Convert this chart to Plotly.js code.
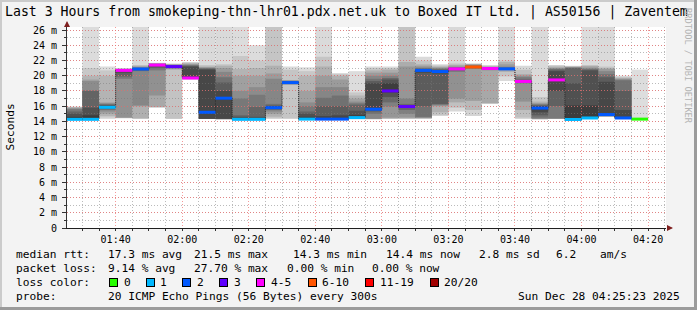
<!DOCTYPE html>
<html>
<head>
<meta charset="utf-8">
<script src="https://cdn.plot.ly/plotly-3.0.1.min.js"></script>
<style>
html,body{margin:0;padding:0;background:#f3f3f3;}
#wrap{position:relative;width:697px;height:310px;overflow:hidden;}
#chart{position:absolute;left:0;top:0;width:697px;height:310px;}
.bd{position:absolute;pointer-events:none;}
</style>
</head>
<body>
<div id="wrap">
<div id="chart"></div>
<div class="bd" style="left:0;top:0;width:697px;height:2px;background:#cbcbcb"></div>
<div class="bd" style="left:0;top:0;width:2px;height:310px;background:#cbcbcb"></div>
<div class="bd" style="left:0;top:307px;width:697px;height:3px;background:#9b9b9b"></div>
<div class="bd" style="left:694px;top:0;width:3px;height:310px;background:#9b9b9b"></div>
</div>
<script>
// ---------------- data ----------------
const titleText = 'Last 3 Hours from smokeping-thn-lhr01.pdx.net.uk to Boxed IT Ltd. | AS50156 | Zaventem';
const day = [2025, 11, 28];
const rangeStart = '2025-12-28 01:25:23';
const rangeEnd = '2025-12-28 04:25:23';

const slotStart = ['01:25','01:30','01:35','01:40','01:45','01:50','01:55','02:00','02:05','02:10',
  '02:15','02:20','02:25','02:30','02:35','02:40','02:45','02:50','02:55','03:00',
  '03:05','03:10','03:15','03:20','03:25','03:30','03:35','03:40','03:45','03:50',
  '03:55','04:00','04:05','04:10','04:15'];

const medianMs = [14.27,14.27,15.85,20.7,20.88,21.4,21.2,19.7,15.2,17.05,
  14.27,14.27,15.8,19.1,14.3,14.3,14.3,14.5,15.6,18.0,
  15.95,20.7,20.55,20.9,21.15,20.95,20.9,19.25,15.75,19.45,
  14.25,14.45,14.9,14.45,14.3];

const lossCount = [1,1,1,4,2,4,3,4,2,2,
  1,1,2,2,1,2,2,1,2,3,
  3,2,2,4,6,4,2,4,2,4,
  1,1,2,2,0];

// received ping round-trip times (ms) per 5-minute step
const pings = [
 [14.2,14.22,14.23,14.24,14.25,14.26,14.26,14.27,14.27,14.27,14.6,15.0,15.3,15.6,15.7,15.8,15.85,15.9,15.95],
 [14.2,14.22,14.23,14.24,14.25,14.26,14.26,14.27,14.27,14.28,14.8,15.8,18.0,18.1,19.3,19.5,20.0,21.0,30],
 [14.3,14.5,14.7,15.0,15.3,15.5,15.6,15.7,15.8,15.85,16.0,16.1,16.2,16.3,16.4,16.5,20.0,20.7,21.2],
 [14.4,14.45,14.5,14.5,19.6,19.9,20.4,20.6,20.8,20.85,20.87,20.88,20.9,20.9,20.92,20.95],
 [14.3,14.35,14.4,16.0,16.1,20.6,20.7,20.8,20.85,20.9,20.95,21.0,21.05,21.1,21.2,21.3,21.4,30],
 [15.8,15.85,15.9,17.4,20.7,21.0,21.2,21.3,21.45,21.5,21.52,21.55,21.58,21.6,21.65,21.7],
 [14.3,14.35,20.8,20.9,21.0,21.05,21.1,21.15,21.2,21.25,21.3,21.35,21.4,21.45,21.5,21.55,21.6],
 [19.5,19.55,19.6,19.62,19.65,19.67,19.68,19.7,19.72,21.2,21.3,21.4,21.5,21.6,21.7,21.8],
 [14.3,14.3,14.3,14.3,14.3,14.3,14.3,14.35,15.1,15.3,20.8,20.9,21.0,21.05,21.1,21.2,21.4,30],
 [14.3,14.3,14.3,14.3,14.3,14.3,14.3,14.35,16.9,17.15,18.0,19.1,19.8,20.5,21.0,21.3,21.5,30],
 [14.2,14.22,14.23,14.24,14.25,14.26,14.26,14.27,14.27,14.28,14.4,14.6,14.8,17.0,18.0,20.0,20.9,22.6,30],
 [14.2,14.22,14.23,14.24,14.25,14.26,14.26,14.27,14.27,14.28,14.4,14.6,15.9,17.5,18.5,20.0,21.0,22.0,24.0],
 [14.3,14.4,14.6,15.0,15.3,15.5,15.6,15.7,15.75,15.85,16.0,16.1,16.3,19.6,20.3,21.3,30,32],
 [14.3,14.4,18.8,18.85,18.9,18.95,19.0,19.02,19.05,19.15,19.2,19.25,19.3,19.35,19.38,19.4,20.8,21.2],
 [14.2,14.22,14.23,14.24,14.25,14.26,14.27,14.28,14.29,14.3,14.6,15.0,15.3,16.0,16.5,18.0,20.0,20.6,21.1],
 [14.25,14.26,14.27,14.27,14.28,14.28,14.29,14.29,14.3,14.3,14.7,16.0,17.1,18.5,20.0,21.2,22.5,30],
 [14.25,14.26,14.27,14.27,14.28,14.28,14.29,14.29,14.3,14.3,14.8,16.0,17.4,18.5,19.5,20.0,20.2,20.35],
 [14.3,14.35,14.4,14.42,14.44,14.46,14.47,14.48,14.49,14.5,14.8,15.4,16.2,16.4,16.6,17.0,17.4,17.8,20.6],
 [14.3,14.3,14.3,14.3,14.35,15.0,15.3,15.45,15.55,15.65,19.0,19.3,19.6,20.0,20.4,20.7,21.0,21.2],
 [14.3,14.35,14.4,14.5,15.9,16.5,17.2,17.8,18.0,19.0,19.5,19.7,20.0,20.4,20.8,21.0,21.2],
 [14.3,14.35,14.4,14.5,15.0,15.5,15.8,15.9,15.95,16.0,16.1,16.3,17.0,21.2,21.8,30,32],
 [14.3,14.35,14.4,14.45,14.5,14.6,16.0,20.4,20.6,20.75,20.8,20.9,21.0,21.1,21.3,21.5,22.0,22.5],
 [14.7,14.8,15.2,16.0,16.1,16.2,16.3,20.3,20.5,20.6,20.7,20.8,20.9,21.0,21.1,21.2,21.35,21.5],
 [15.3,15.8,16.5,17.0,20.5,20.7,20.8,20.85,20.95,21.0,21.05,21.1,21.2,21.4,21.6,30],
 [14.7,15.5,16.7,20.9,21.0,21.1,21.12,21.18,21.2,21.3,21.4,21.5,21.55,21.6],
 [16.3,16.35,16.4,20.7,20.8,20.85,20.9,20.93,20.97,21.0,21.05,21.1,21.15,21.2,21.3,21.4],
 [19.3,19.9,20.5,20.7,20.75,20.8,20.82,20.85,20.88,20.92,20.95,21.0,21.1,21.2,21.5,21.8,22.0,30],
 [14.3,14.5,15.5,16.6,19.0,19.1,19.2,19.22,19.28,19.35,19.5,19.8,20.0,20.2,20.8,21.3],
 [14.3,14.3,14.3,14.3,14.35,14.5,14.8,15.2,15.6,15.9,16.0,16.1,16.2,16.3,16.4,16.6,17.2,30],
 [14.3,14.3,14.3,14.35,14.4,16.0,18.0,19.3,19.6,20.6,20.8,20.9,21.0,21.1,21.3,21.4],
 [14.2,14.21,14.22,14.23,14.24,14.24,14.25,14.25,14.25,14.25,16.1,19.0,21.0,21.05,21.1,21.15,21.2,21.25,21.3],
 [14.3,14.32,14.35,14.38,14.4,14.42,14.43,14.44,14.45,14.46,16.1,20.7,20.8,20.9,21.0,21.2,21.3,21.4,30],
 [14.6,14.62,14.65,14.68,14.7,14.75,14.8,14.85,14.88,14.92,19.2,19.8,20.2,20.6,20.9,21.0,21.2,30],
 [14.3,14.32,14.35,14.38,14.4,14.42,14.43,14.44,14.44,14.46,15.5,18.0,19.4,19.5,19.6,19.7,19.85,20.0],
 [14.26,14.27,14.27,14.28,14.28,14.29,14.29,14.3,14.3,14.3,14.3,14.31,14.31,14.32,14.32,14.33,14.33,14.34,14.35,20.8]
];

const yTickVals = [0,2,4,6,8,10,12,14,16,18,20,22,24,26];
const yTickText = ['0','2 m','4 m','6 m','8 m','10 m','12 m','14 m','16 m','18 m','20 m','22 m','24 m','26 m'];

const lossLabels = ['0','1','2','3','4-5','6-10','11-19','20/20'];
const lossColors = ['#26ff00','#00b8ff','#0059ff','#5e00ff','#ff00fe','#ff5500','#ff0000','#a10000'];

const statsRtt = ['median rtt:','17.3 ms avg','21.5 ms max','14.3 ms min','14.4 ms now','2.8 ms sd','6.2','am/s'];
const statsLoss = ['packet loss:','9.14 % avg','27.70 % max','0.00 % min','0.00 % now'];
const probeText = ['probe:','20 ICMP Echo Pings (56 Bytes) every 300s'];
const stampText = 'Sun Dec 28 04:25:23 2025';
const watermark = 'RRDTOOL / TOBI OETIKER';

// ---------------- helpers ----------------
const STEP = 300000;
function tms(t){ const [h,m] = t.split(':').map(Number); return Date.UTC(day[0], day[1], day[2], h, m, 0); }
function lossCat(l){ if(l<=3) return l; if(l<=5) return 4; if(l<=10) return 5; if(l<=19) return 6; return 7; }
function gray(k, n){ const half = n/2; const c = Math.floor(190/half*(half-k)) + 50; return 'rgb('+c+','+c+','+c+')'; }

const ML = 67, MT = 27, PW = 599, PH = 201, W = 697, H = 310;
const px2x = px => (px - ML) / PW;
const py2y = py => (MT + PH - py) / PH;
const FONT = 'DejaVu Sans Mono, monospace';

// ---------------- smoke ----------------
const traces = [];
const sorted = pings.map(a => a.slice().sort((p, q) => p - q));
const maxPairs = Math.max(...sorted.map(a => Math.floor(a.length/2)));
for(let k = 1; k <= maxPairs; k++){
  const xs = [], bases = [], hs = [], cols = [];
  sorted.forEach((p, i) => {
    const n = p.length;
    if(k > Math.floor(n/2)) return;
    const lo = p[k-1], hi = p[n-k];
    if(hi <= lo) return;
    xs.push(tms(slotStart[i]) + STEP/2);
    bases.push(lo); hs.push(hi - lo); cols.push(gray(k, n));
  });
  traces.push({type:'bar', x:xs, y:hs, base:bases, width:STEP,
    marker:{color:cols, line:{width:0}}, xaxis:'x', yaxis:'y', hoverinfo:'skip'});
}

// ---------------- median ----------------
const last = slotStart.length - 1;
traces.push({type:'scatter', mode:'lines',
  x: slotStart.map(tms).concat([tms(slotStart[last]) + STEP]),
  y: medianMs.concat([medianMs[last]]),
  line:{shape:'hv', color:'#202020', width:1, dash:'1px,1px'},
  xaxis:'x2', yaxis:'y2', hoverinfo:'skip'});

lossColors.forEach((col, c) => {
  const xs = [], ys = [];
  slotStart.forEach((t, i) => {
    if(lossCat(lossCount[i]) !== c) return;
    xs.push(tms(t), tms(t) + STEP, null);
    ys.push(medianMs[i], medianMs[i], null);
  });
  if(xs.length) traces.push({type:'scatter', mode:'lines', x:xs, y:ys,
    line:{color:col, width:3}, connectgaps:false, xaxis:'x2', yaxis:'y2', hoverinfo:'skip'});
});

// ---------------- annotations ----------------
const ann = [];
function txt(px, py, text, extra){
  ann.push(Object.assign({xref:'paper', yref:'paper', x:px2x(px), y:py2y(py), xanchor:'left', yanchor:'middle',
    text:text, showarrow:false, borderpad:0, borderwidth:0, font:{family:FONT, size:11.2, color:'#000'}}, extra||{}));
}
const rttX = [16.4,107.6,194.2,293.3,385.8,478.7,555.6,600];
statsRtt.forEach((s, i) => txt(rttX[i], 254, s));
const lossX = [16.4,107.6,194.2,286.7,372.4];
statsLoss.forEach((s, i) => txt(lossX[i], 268, s));
txt(16.4, 282, 'loss color:');
const boxX = [109,145.8,182.2,219,256.4,307.6,365.3,430.2];
const labX = [124.4,160,196.9,234.2,271.1,322.2,380,444.4];
lossLabels.forEach((s, i) => {
  ann.push({xref:'paper', yref:'paper', x:px2x(boxX[i]), y:py2y(282), xanchor:'left', yanchor:'middle',
    text:' ', showarrow:false, width:7, height:7, bgcolor:lossColors[i], bordercolor:'#000', borderwidth:1, borderpad:0,
    font:{family:FONT, size:6}});
  txt(labX[i], 282, s);
});
txt(16.4, 296, probeText[0]);
txt(107.6, 296, probeText[1]);
txt(680, 296, stampText, {xanchor:'right'});
// y axis label
ann.push({xref:'paper', yref:'paper', x:px2x(10), y:0.5, xanchor:'center', yanchor:'middle', textangle:-90,
  text:'Seconds', showarrow:false, font:{family:FONT, size:11.2, color:'#000'}});
// watermark
ann.push({xref:'paper', yref:'paper', x:px2x(688), y:py2y(66), xanchor:'center', yanchor:'middle', textangle:90,
  text:watermark, showarrow:false, font:{family:FONT, size:8.7, color:'#b4b4b4'}});
// axis arrows
ann.push({xref:'paper', yref:'paper', x:0, y:py2y(21), ax:0, ay:7, text:'', showarrow:true,
  arrowhead:2, arrowsize:1.2, arrowwidth:1, arrowcolor:'#7f1f1f'});
ann.push({xref:'paper', yref:'paper', x:px2x(673), y:0, ax:-7, ay:0, text:'', showarrow:true,
  arrowhead:2, arrowsize:1.2, arrowwidth:1, arrowcolor:'#7f1f1f'});

// ---------------- layout ----------------
const majorGrid = 'rgba(240,110,110,0.7)';
const minorGrid = 'rgba(120,120,120,0.5)';
const layout = {
  width:W, height:H,
  margin:{l:ML, r:W-ML-PW, t:MT, b:H-MT-PH, pad:0},
  paper_bgcolor:'#f3f3f3', plot_bgcolor:'rgba(0,0,0,0)',
  showlegend:false, barmode:'overlay', hovermode:false,
  font:{family:FONT, size:10, color:'#000'},
  title:{text:titleText, xref:'container', x:5/W, xanchor:'left', yref:'container', y:1-11.5/H, yanchor:'middle',
    pad:{t:0,b:0,l:0,r:0}, font:{family:FONT, size:13.2, color:'#000'}},
  xaxis:{visible:false, type:'date', range:[rangeStart, rangeEnd], domain:[0,1], anchor:'y', fixedrange:true},
  yaxis:{visible:false, range:[0,26.4], domain:[0,1], anchor:'x', fixedrange:true},
  xaxis2:{type:'date', range:[rangeStart, rangeEnd], domain:[0,1], anchor:'y2', fixedrange:true,
    tick0:'2025-12-28 00:00:00', dtick:1200000, tickformat:'%H:%M',
    showgrid:true, gridcolor:majorGrid, griddash:'1px,2px', gridwidth:1,
    ticks:'outside', ticklen:2, tickcolor:'#333', tickwidth:1,
    showline:true, linecolor:'#1f1f1f', linewidth:1, zeroline:false,
    tickfont:{family:FONT, size:10, color:'#000'},
    minor:{tick0:'2025-12-28 00:00:00', dtick:300000, showgrid:true, gridcolor:minorGrid, griddash:'1px,2px', gridwidth:1,
      ticks:'outside', ticklen:2, tickcolor:'#333'}},
  yaxis2:{range:[0,26.4], domain:[0,1], anchor:'x2', fixedrange:true,
    tickmode:'array', tickvals:yTickVals, ticktext:yTickText,
    showgrid:true, gridcolor:majorGrid, griddash:'1px,2px', gridwidth:1,
    ticks:'outside', ticklen:4, tickcolor:'#333', tickwidth:1, ticklabelstandoff:3,
    showline:true, linecolor:'#333', linewidth:1, zeroline:false,
    tickfont:{family:FONT, size:10, color:'#000'},
    minor:{tick0:0, dtick:1, showgrid:true, gridcolor:minorGrid, griddash:'1px,2px', gridwidth:1,
      ticks:'outside', ticklen:2, tickcolor:'#333'}},
  shapes:[{type:'rect', xref:'paper', yref:'paper', x0:0, x1:1, y0:0, y1:1, fillcolor:'#ffffff', line:{width:0}, layer:'below'}],
  annotations:ann
};

Plotly.newPlot('chart', traces, layout, {staticPlot:true, displayModeBar:false});
</script>
</body>
</html>
